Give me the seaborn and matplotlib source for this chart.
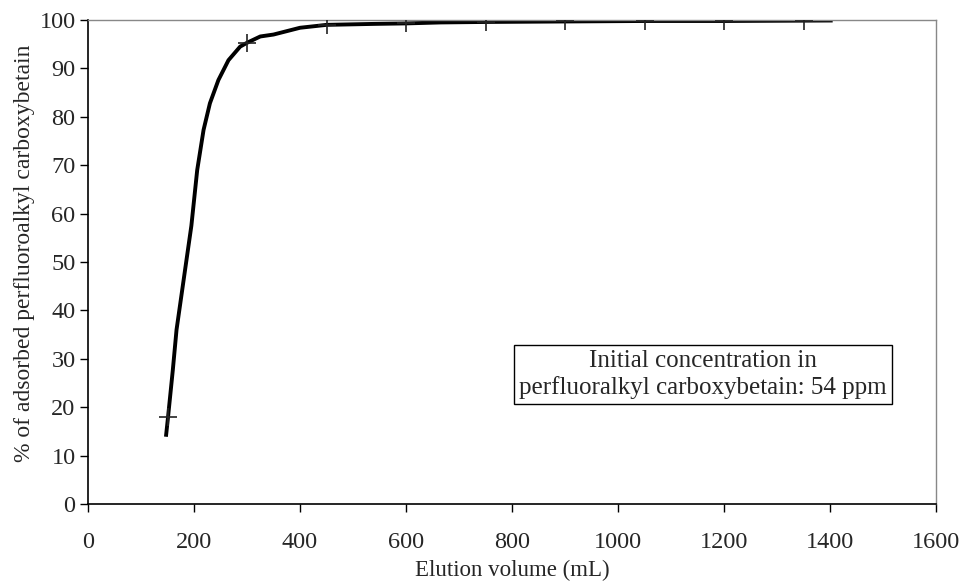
import matplotlib
matplotlib.use("Agg")
import matplotlib.pyplot as plt
import seaborn as sns
import pandas as pd

# measured points (markers)
vol_pts = [150, 300, 450, 600, 750, 900, 1050, 1200, 1350]
ads_pts = [18.0, 95.3, 99.0, 99.3, 99.6, 99.7, 99.8, 99.8, 99.8]

# smoothed curve
curve_vol = [147, 151, 160, 167, 183, 195, 206, 218, 230, 246, 265, 287, 300,
             325, 350, 400, 450, 540, 600, 665, 750, 900, 1050, 1200, 1405]
curve_ads = [13.9, 18.0, 27.7, 36.0, 48.3, 57.5, 69.0, 77.3, 82.8, 87.6, 91.7, 94.5, 95.3,
             96.6, 97.0, 98.4, 99.0, 99.2, 99.3, 99.5, 99.6, 99.7, 99.8, 99.8, 99.9]

curve = pd.DataFrame({"vol": curve_vol, "ads": curve_ads})
pts = pd.DataFrame({"vol": vol_pts, "ads": ads_pts})

sns.set_style("white")
plt.rcParams["font.family"] = ["Liberation Serif", "DejaVu Serif"]

fig = plt.figure(figsize=(9.62, 5.82), dpi=100)
ax = fig.add_axes([0.0915, 0.134, 0.8815, 0.8316])

sns.lineplot(data=curve, x="vol", y="ads", sort=False, color="black", lw=2.8, ax=ax)
for l in ax.get_lines():
    l.set_solid_joinstyle("round")
    l.set_solid_capstyle("butt")
sns.scatterplot(data=pts, x="vol", y="ads", marker="+", s=150, color="#222222",
                linewidth=1.2, ax=ax, zorder=3)

ax.set_xlim(0, 1600)
ax.set_ylim(0, 100)
ax.set_xticks(range(0, 1601, 200))
ax.set_yticks(range(0, 101, 10))
ax.tick_params(axis="both", direction="out", length=6, width=1, color="black",
               labelsize=17.5, left=True, bottom=True)
ax.tick_params(axis="x", pad=14)
ax.tick_params(axis="y", pad=3)

for s in ["left", "bottom"]:
    ax.spines[s].set_color("black")
    ax.spines[s].set_linewidth(1.2)
for s in ["top", "right"]:
    ax.spines[s].set_color("#888888")
    ax.spines[s].set_linewidth(1.0)

ax.set_xlabel("Elution volume (mL)", fontsize=16.5, labelpad=5)
ax.set_ylabel("% of adsorbed perfluoroalkyl carboxybetain", fontsize=17, labelpad=3)
ax.yaxis.label.set_y(0.519)

ax.text(1160, 26.7, "Initial concentration in\nperfluoralkyl carboxybetain: 54 ppm",
        ha="center", va="center", multialignment="center", fontsize=18,
        linespacing=1.2,
        bbox=dict(boxstyle="square,pad=0.2", fc="white", ec="black", lw=1.0))

fig.savefig("out.png", dpi=100)
